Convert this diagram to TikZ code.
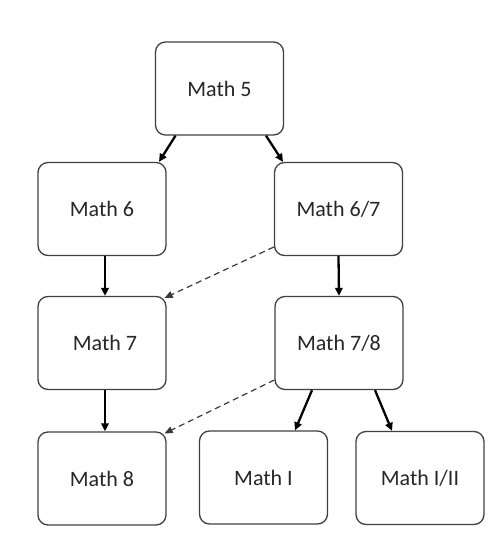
\documentclass[tikz,border=0pt]{standalone}
\usepackage{fontspec}
\setmainfont{Carlito}
\usetikzlibrary{arrows.meta}
\usepackage{xcolor}
\definecolor{boxline}{HTML}{404040}
\definecolor{boxtext}{HTML}{262626}
\definecolor{dashline}{HTML}{3A3A3A}

\begin{document}
\begin{tikzpicture}[x=1pt, y=-1pt,
    course/.style={draw=boxline, line width=1.3pt, rounded corners=10pt,
                   minimum width=128pt, minimum height=93pt, inner sep=0pt,
                   font=\fontsize{22}{25}\selectfont, text=boxtext},
    req/.style={line width=2.3pt, -{Triangle[length=8pt,width=7.5pt]}},
    alt/.style={dashline, line width=1.2pt, dash pattern=on 6pt off 4pt,
                -{Triangle[length=8pt,width=7pt]}}]
  \useasboundingbox (0,0) rectangle (500,544);
  % Row 1
  \node[course] (m5)   at (219.5, 88.5) {Math 5};
  % Row 2
  \node[course] (m6)   at (102,   209)  {Math 6};
  \node[course] (m67)  at (338.5, 209)  {Math 6/7};
  % Row 3
  \node[course] (m7)   at (102,   343)  {\hspace*{6pt}Math 7};
  \node[course] (m78)  at (339,   343)  {Math 7/8};
  % Row 4
  \node[course] (m8)   at (102,   478.5) {Math 8};
  \node[course] (mI)   at (263.5, 477.5) {Math I};
  \node[course] (mIII) at (420,   478)  {Math I/II};
  % Solid arrows
  \draw[req] ([xshift=-44pt]m5.south) -- ([xshift=57pt]m6.north);
  \draw[req] ([xshift=46.5pt]m5.south) -- ([xshift=-55.5pt]m67.north);
  \draw[req] ([xshift=3pt]m6.south) -- ([xshift=3pt]m7.north);
  \draw[req] (m67.south) -- (m78.north);
  \draw[req] ([xshift=3pt]m7.south) -- ([xshift=3pt]m8.north);
  \draw[req] ([xshift=-27pt]m78.south) -- ([xshift=31.5pt]mI.north);
  \draw[req] ([xshift=36pt]m78.south) -- ([xshift=-28pt]mIII.north);
  % Dashed arrows
  \draw[alt] ([yshift=-38pt]m67.west) -- ([xshift=-2pt,yshift=-2pt]m7.north east);
  \draw[alt] ([yshift=-37pt]m78.west) -- ([xshift=-2pt,yshift=-2pt]m8.north east);
\end{tikzpicture}
\end{document}
